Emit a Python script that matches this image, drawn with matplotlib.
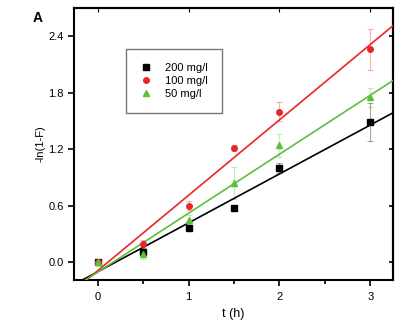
import numpy as np
import matplotlib
matplotlib.use("Agg")
import matplotlib.pyplot as plt

plt.rcParams["font.family"] = ["Liberation Sans", "DejaVu Sans"]

# Data
t = [0, 0.5, 1, 1.5, 2, 3]
labels = ["200 mg/l", "100 mg/l", "50 mg/l"]
y_200 = [0.0, 0.11, 0.36, 0.58, 1.00, 1.49]
y_100 = [0.0, 0.19, 0.60, 1.21, 1.60, 2.26]
y_50 = [0.0, 0.09, 0.45, 0.84, 1.24, 1.75]
err_200 = [0.0, 0.03, 0.02, 0.02, 0.05, 0.20]
err_100 = [0.0, 0.04, 0.05, 0.03, 0.10, 0.22]
err_50 = [0.0, 0.06, 0.05, 0.17, 0.12, 0.10]

colors = ["black", "#e8262a", "#5cbf3c"]
markers = ["s", "o", "^"]

fig = plt.figure(figsize=(4.2, 3.2), dpi=100)
ax = fig.add_axes([0.176, 0.125, 0.760, 0.850])

x_line = np.array([-0.3, 3.3])
for y, e, c, m, lab in zip([y_200, y_100, y_50], [err_200, err_100, err_50],
                           colors, markers, labels):
    ax.errorbar(t, y, yerr=e, fmt="none", ecolor=c, alpha=0.35,
                elinewidth=0.8, capsize=2.5, capthick=0.8, zorder=2)
    ax.plot(t, y, linestyle="none", marker=m, color=c, markersize=4,
            label=lab, zorder=4)
    # least-squares fit line
    slope, icpt = np.polyfit(t, y, 1)
    ax.plot(x_line, slope * x_line + icpt, color=c, linewidth=1.2, zorder=3)

ax.set_xlim(-0.26, 3.25)
ax.set_ylim(-0.19, 2.70)
ax.set_xticks([0, 1, 2, 3])
ax.set_xticks([0.5, 1.5, 2.5], minor=True)
ax.set_yticks([0.0, 0.6, 1.2, 1.8, 2.4])
ax.tick_params(axis="both", which="both", labelsize=8, width=1.2)
ax.tick_params(axis="x", which="major", direction="out", length=4, pad=5)
ax.tick_params(axis="x", which="minor", direction="out", length=3)
ax.tick_params(axis="y", direction="out", length=4)

# inward ticks on top and right
top = ax.secondary_xaxis("top")
top.set_xticks([0, 1, 2, 3])
top.tick_params(direction="in", length=3, labeltop=False, width=0.8)
right = ax.secondary_yaxis("right")
right.set_yticks([0.0, 0.6, 1.2, 1.8, 2.4])
right.tick_params(direction="in", length=3, labelright=False, width=1.2)

for sp in ax.spines.values():
    sp.set_linewidth(1.5)
top.spines["top"].set_linewidth(1.5)
right.spines["right"].set_linewidth(1.5)

ax.set_xlabel("t (h)", fontsize=9, labelpad=4)
ax.set_ylabel("-ln(1-F)", fontsize=8, labelpad=2)

leg = ax.legend(loc="upper left", bbox_to_anchor=(0.145, 0.87), fontsize=8,
                frameon=True, fancybox=False, edgecolor="#555555",
                handletextpad=1.2, borderpad=1.3, labelspacing=0.25,
                handlelength=1.0)
leg.get_frame().set_linewidth(1.0)

fig.text(0.078, 0.965, "A", fontsize=10, fontweight="bold", va="top")

fig.savefig("out.png", dpi=100)
